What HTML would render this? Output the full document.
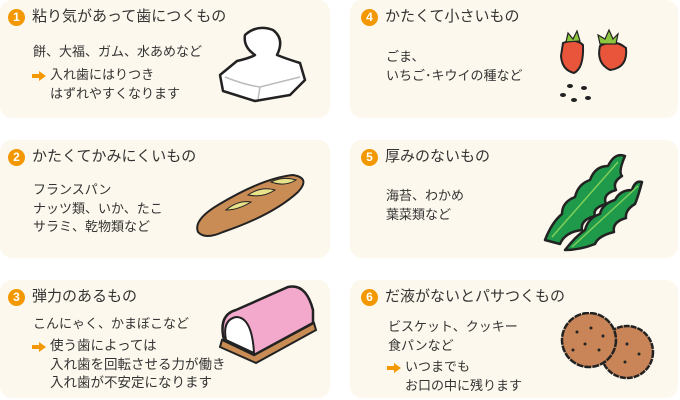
<!DOCTYPE html>
<html><head><meta charset="utf-8"><style>
*{margin:0;padding:0;box-sizing:border-box}
body{width:680px;height:400px;background:#fff;position:relative;overflow:hidden;font-family:"Liberation Sans","Noto Sans CJK JP",sans-serif;color:#333}
.card{position:absolute;background:#fdf8ed;border-radius:12px}
.t{position:absolute;font-size:15px;line-height:18px;white-space:nowrap;color:#333}
.n{position:absolute;width:17px;height:17px;border-radius:50%;background:#f39800;color:#fff;font-size:12px;font-weight:bold;text-align:center;line-height:17px}
.b{position:absolute;font-size:13px;line-height:18.5px;white-space:nowrap;color:#333}
.ar{position:absolute;width:14px;height:10px}
svg{position:absolute}
</style></head><body>
<div class="card" style="left:0;top:0;width:330px;height:118px"></div>
<div class="card" style="left:350px;top:0;width:328px;height:118px"></div>
<div class="card" style="left:0;top:140px;width:330px;height:118px"></div>
<div class="card" style="left:350px;top:140px;width:328px;height:118px"></div>
<div class="card" style="left:0;top:280px;width:330px;height:118px"></div>
<div class="card" style="left:350px;top:280px;width:328px;height:118px"></div>

<div class="n" style="left:8px;top:9px">1</div><div class="t" style="left:32px;top:8px">粘り気があって歯につくもの</div>
<div class="b" style="left:33px;top:43px">餅、大福、ガム、水あめなど</div>
<svg class="ar" style="left:32px;top:71px" viewBox="0 0 14 10"><path d="M0 3h7V0l7 5-7 5V7H0z" fill="#f39800"/></svg>
<div class="b" style="left:50px;top:66px">入れ歯にはりつき<br>はずれやすくなります</div>

<div class="n" style="left:361px;top:9px">4</div><div class="t" style="left:385px;top:8px">かたくて小さいもの</div>
<div class="b" style="left:386px;top:48px">ごま、<br>いちご･キウイの種など</div>

<div class="n" style="left:8px;top:149px">2</div><div class="t" style="left:32px;top:148px">かたくてかみにくいもの</div>
<div class="b" style="left:33px;top:181px">フランスパン<br>ナッツ類、いか、たこ<br>サラミ、乾物類など</div>

<div class="n" style="left:361px;top:149px">5</div><div class="t" style="left:385px;top:148px">厚みのないもの</div>
<div class="b" style="left:386px;top:187px">海苔、わかめ<br>葉菜類など</div>

<div class="n" style="left:8px;top:289px">3</div><div class="t" style="left:32px;top:288px">弾力のあるもの</div>
<div class="b" style="left:33px;top:315px">こんにゃく、かまぼこなど</div>
<svg class="ar" style="left:32px;top:342px" viewBox="0 0 14 10"><path d="M0 3h7V0l7 5-7 5V7H0z" fill="#f39800"/></svg>
<div class="b" style="left:50px;top:337px;font-size:13.5px">使う歯によっては<br>入れ歯を回転させる力が働き<br>入れ歯が不安定になります</div>

<div class="n" style="left:361px;top:289px">6</div><div class="t" style="left:385px;top:288px">だ液がないとパサつくもの</div>
<div class="b" style="left:388px;top:318px">ビスケット、クッキー<br>食パンなど</div>
<svg class="ar" style="left:387px;top:363px" viewBox="0 0 14 10"><path d="M0 3h7V0l7 5-7 5V7H0z" fill="#f39800"/></svg>
<div class="b" style="left:405px;top:358px">いつまでも<br>お口の中に残ります</div>

<!-- mochi -->
<svg style="left:215px;top:25px" width="95" height="80" viewBox="0 0 95 80">
<path d="M5 50 L22 36 Q35 33 40 30 Q28 22 30 10 Q42 -1 58 5 Q70 14 62 30 Q72 34 85 38 L90 55 L75 70 L40 76 L8 66 Z" fill="#fff" stroke="#222" stroke-width="2.5" stroke-linejoin="round"/>
<path d="M10 52 Q30 60 45 62 L85 52 M45 62 L43 74" fill="none" stroke="#bbb" stroke-width="1.5"/>
</svg>
<!-- baguette -->
<svg style="left:193px;top:170px" width="115" height="70" viewBox="0 0 115 70">
<path d="M5 62 Q0 50 25 35 Q70 8 100 5 Q118 8 105 22 Q80 45 30 62 Q12 70 5 62Z" fill="#c98c55" stroke="#222" stroke-width="2"/>
<path d="M33 40 Q45 30 58 32 Q45 40 33 40Z M55 25 Q68 16 82 20 Q70 28 55 25Z M78 12 Q90 6 103 10 Q92 17 78 12Z" fill="#e8e28a" stroke="#222" stroke-width="1"/>
</svg>
<!-- kamaboko -->
<svg style="left:218px;top:285px" width="100" height="80" viewBox="0 0 100 80">
<path d="M2 62 L38 78 L98 45 L96 38 L36 70 L4 55Z" fill="#c98c55" stroke="#222" stroke-width="2"/>
<path d="M6 55 Q0 30 18 25 L70 2 Q88 -2 95 25 L95 38 L36 70Z" fill="#f2a9cc" stroke="#222" stroke-width="2.5"/>
<path d="M8 55 Q4 35 18 32 Q34 32 36 68Z" fill="#fff" stroke="#222" stroke-width="2"/>
</svg>
<!-- strawberries -->
<svg style="left:558px;top:28px" width="75" height="80" viewBox="0 0 75 80">
<path d="M5 15 Q18 10 25 17 Q26 40 16 45 Q4 42 3 28Z" fill="#e8553a" stroke="#222" stroke-width="2"/>
<path d="M42 18 Q56 10 68 20 Q70 40 52 42 Q38 35 42 18Z" fill="#e8553a" stroke="#222" stroke-width="2"/>
<path d="M8 14 L10 5 L15 11 L19 3 L22 13Z M42 16 L40 7 L47 11 L51 2 L55 11 L60 6 L58 16Z" fill="#8cc63f" stroke="#222" stroke-width="1.2"/>
<ellipse cx="12" cy="58" rx="3" ry="2" fill="#222"/><ellipse cx="5" cy="67" rx="3" ry="2" fill="#222"/><ellipse cx="16" cy="72" rx="3" ry="2" fill="#222"/><ellipse cx="26" cy="60" rx="3" ry="2" fill="#222"/><ellipse cx="30" cy="70" rx="3" ry="2" fill="#222"/>
</svg>
<!-- seaweed -->
<svg style="left:540px;top:152px" width="105" height="100" viewBox="0 0 105 100">
<path d="M5 88 Q12 70 22 62 Q22 50 35 45 Q38 32 50 28 Q55 14 68 14 Q75 0 85 4 Q78 20 82 24 Q72 30 76 38 Q62 42 66 52 Q52 56 55 64 Q40 68 42 78 Q25 80 20 92Z" fill="#1e9a4a" stroke="#222" stroke-width="2.5" stroke-linejoin="round"/>
<path d="M25 98 Q35 85 45 78 Q48 66 60 62 Q62 52 75 48 Q80 38 92 38 Q95 28 102 30 Q98 45 95 52 Q85 58 86 66 Q72 70 74 80 Q58 84 55 92 Q40 98 25 98Z" fill="#1e9a4a" stroke="#222" stroke-width="2.5" stroke-linejoin="round"/>
<path d="M12 85 L78 10 M32 95 L98 34" stroke="#7fcf5a" stroke-width="1.5"/>
</svg>
<!-- crackers -->
<svg style="left:555px;top:312px" width="105" height="70" viewBox="0 0 105 70">
<g stroke="#222" stroke-width="2.5" fill="#c98558">
<circle cx="72" cy="40" r="26" stroke-dasharray="6 1"/>
<circle cx="34" cy="28" r="27" stroke-dasharray="7 1"/>
</g>
<g fill="#222"><circle cx="22" cy="20" r="1.5"/><circle cx="36" cy="16" r="1.5"/><circle cx="48" cy="24" r="1.5"/><circle cx="30" cy="32" r="1.5"/><circle cx="44" cy="38" r="1.5"/><circle cx="18" cy="38" r="1.5"/><circle cx="72" cy="32" r="1.5"/><circle cx="84" cy="42" r="1.5"/><circle cx="70" cy="50" r="1.5"/></g>
</svg>
</body></html>
